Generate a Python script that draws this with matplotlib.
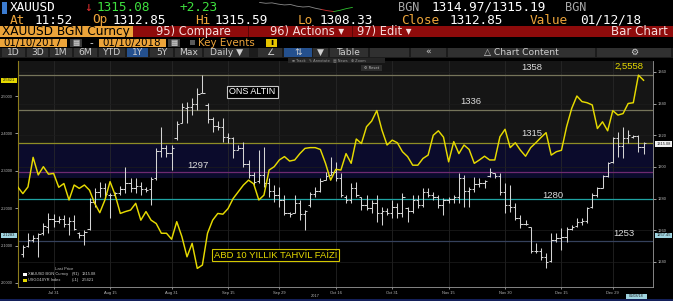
import numpy as np
import pandas as pd
import matplotlib
matplotlib.use("Agg")
import matplotlib.pyplot as plt
from matplotlib.patches import Rectangle

# ---------------- data ----------------
dates = pd.bdate_range("2017-07-20", periods=123)

yield_10y = [
    2.257, 2.239, 2.257, 2.336, 2.289, 2.311, 2.291, 2.293, 2.256, 2.266,
    2.222, 2.262, 2.253, 2.262, 2.248, 2.213, 2.188, 2.222, 2.271, 2.235,
    2.186, 2.191, 2.195, 2.213, 2.168, 2.191, 2.168, 2.159, 2.133, 2.133,
    2.117, 2.164, 2.124, 2.070, 2.106, 2.039, 2.048, 2.133, 2.168, 2.186,
    2.184, 2.199, 2.226, 2.244, 2.262, 2.275, 2.265, 2.222, 2.235, 2.302,
    2.311, 2.329, 2.338, 2.326, 2.329, 2.346, 2.360, 2.362, 2.362, 2.357,
    2.320, 2.275, 2.304, 2.302, 2.346, 2.320, 2.385, 2.373, 2.418, 2.433,
    2.461, 2.409, 2.369, 2.382, 2.375, 2.351, 2.338, 2.315, 2.315, 2.333,
    2.342, 2.395, 2.407, 2.390, 2.324, 2.378, 2.346, 2.369, 2.357, 2.320,
    2.329, 2.339, 2.329, 2.329, 2.391, 2.411, 2.362, 2.375, 2.355, 2.339,
    2.362, 2.375, 2.389, 2.402, 2.342, 2.351, 2.355, 2.418, 2.467, 2.500,
    2.485, 2.482, 2.476, 2.413, 2.431, 2.407, 2.461, 2.449, 2.453, 2.480,
    2.482, 2.5558, 2.5421]

nan = np.nan
gold_high = [
    nan, 1250.8, 1258.1, 1257.1, 1258.1, 1264.4, 1270.7, 1270.3, 1269.1, 1269.7,
    1268.6, 1269.7, 1259.2, 1260.2, 1280.2, 1286.5, 1290.7, 1289.7, 1283.4, 1284.4,
    1288.0, 1300.2, 1292.9, 1292.9, 1290.7, 1287.6, 1293.9, 1311.8, 1325.5, 1313.9,
    1313.9, 1328.7, 1340.2, 1341.3, 1343.4, 1349.7, 1358.1, 1340.2, 1331.8, 1328.7,
    1330.8, 1321.3, 1319.2, 1313.9, 1316.0, 1304.4, 1297.1, 1310.7, 1312.8, 1292.9,
    1288.6, 1287.6, 1282.3, 1271.8, 1282.3, 1279.2, 1272.9, 1284.4, 1287.6, 1292.9,
    1297.1, 1306.5, 1303.0, 1296.0, 1282.3, 1289.7, 1290.7, 1281.3, 1282.3, 1279.2,
    1282.3, 1275.0, 1273.9, 1279.2, 1277.1, 1283.4, 1275.0, 1282.3, 1282.3, 1286.5,
    1286.5, 1284.4, 1282.3, 1280.2, 1281.3, 1282.3, 1296.0, 1294.9, 1287.6, 1293.9,
    1292.9, 1291.8, 1299.2, 1296.0, 1296.0, 1289.7, 1288.6, 1277.1, 1269.7, 1266.5,
    1262.3, 1251.8, 1248.6, 1245.5, 1258.1, 1258.1, 1261.3, 1262.3, 1263.4, 1267.6,
    1267.6, 1275.0, 1283.4, 1287.6, 1295.0, 1303.4, 1319.2, 1322.3, 1325.5, 1323.4,
    1320.2, 1320.2, 1315.59]

gold_low = [
    nan, 1243.4, 1249.7, 1252.9, 1243.4, 1257.1, 1258.1, 1262.3, 1264.4, 1262.3,
    1257.1, 1260.2, 1255.0, 1250.8, 1260.2, 1275.0, 1281.3, 1281.3, 1267.6, 1281.3,
    1282.3, 1283.4, 1284.4, 1283.4, 1282.3, 1284.4, 1276.0, 1291.8, 1306.5, 1306.5,
    1298.1, 1317.1, 1327.6, 1327.6, 1332.9, 1336.0, 1346.5, 1327.6, 1322.3, 1323.4,
    1316.0, 1315.0, 1305.5, 1310.7, 1300.2, 1292.9, 1288.6, 1289.7, 1287.6, 1281.3,
    1278.1, 1275.0, 1269.7, 1268.6, 1270.7, 1266.5, 1260.2, 1275.0, 1281.3, 1284.4,
    1291.8, 1294.9, 1291.0, 1281.3, 1277.1, 1277.1, 1281.3, 1272.9, 1272.9, 1270.7,
    1265.5, 1263.4, 1269.7, 1267.6, 1267.6, 1268.6, 1265.5, 1270.7, 1273.9, 1275.0,
    1281.3, 1279.2, 1273.9, 1269.7, 1277.1, 1277.1, 1277.1, 1275.0, 1275.0, 1284.4,
    1287.6, 1286.5, 1293.9, 1292.9, 1282.3, 1270.7, 1271.8, 1266.5, 1261.3, 1263.4,
    1245.5, 1245.5, 1241.3, 1236.0, 1240.2, 1252.9, 1247.6, 1252.9, 1260.2, 1262.3,
    1263.4, 1264.4, 1273.9, 1281.3, 1286.5, 1293.9, 1302.3, 1306.5, 1305.5, 1315.0,
    1318.1, 1309.7, 1308.33]

gold_open = [
    nan, 1245, 1250, 1254, 1255, 1258, 1262, 1267, 1266, 1267,
    1264, 1266, 1258, 1257, 1261, 1278, 1284, 1287, 1282, 1282.5,
    1283.5, 1286, 1290, 1287, 1288, 1286, 1286, 1293, 1310, 1312,
    1309, 1318, 1328, 1337, 1338, 1340, 1347, 1339, 1330, 1326,
    1325, 1319, 1318, 1311, 1312, 1302, 1295, 1291, 1295, 1290,
    1285, 1282, 1279, 1271, 1271, 1277, 1270, 1276, 1283, 1285,
    1292, 1295, 1297, 1293, 1281, 1279, 1287, 1281, 1276, 1274,
    1277, 1271, 1272, 1271, 1275, 1271, 1274, 1272, 1279, 1276,
    1284, 1282, 1281, 1276, 1279, 1280, 1281, 1293, 1285, 1286,
    1289.5, 1290, 1294, 1296, 1294, 1284, 1276, 1275, 1268, 1264,
    1262, 1247, 1247, 1243, 1240.5, 1254, 1255, 1255.5, 1261, 1262.5,
    1265, 1266, 1274.5, 1282, 1287, 1294.5, 1303, 1318, 1313, 1318,
    1319, 1319.5, 1312.85]

gold_close = [
    nan, 1249.5, 1254, 1255, 1257.5, 1263, 1267, 1266, 1267, 1264,
    1266, 1261, 1257, 1259, 1278, 1284, 1287, 1283, 1282.5, 1283.5,
    1286, 1290, 1287, 1288, 1286, 1285.5, 1292.5, 1310, 1312, 1309,
    1312, 1327, 1338, 1338, 1340, 1346, 1347, 1330, 1326, 1325,
    1319, 1318, 1311, 1312, 1302, 1295, 1290.5, 1295, 1290, 1285,
    1282, 1279, 1271, 1270, 1277, 1270, 1272.5, 1283, 1285, 1291,
    1294, 1297, 1293, 1282, 1279, 1287, 1282, 1276, 1274, 1277,
    1271, 1272, 1271, 1275, 1271, 1281, 1272, 1279, 1276, 1284,
    1282, 1281, 1276, 1279, 1280, 1281, 1293, 1285, 1286, 1289.5,
    1290, 1291, 1297, 1294, 1284, 1276, 1275, 1268, 1264, 1264,
    1247, 1247, 1243, 1240, 1254, 1255, 1255.5, 1261, 1262, 1265,
    1266, 1274, 1282, 1287, 1294, 1302.5, 1318, 1313, 1318, 1320,
    1319.5, 1312.85, 1315.08]

level_values = [1358, 1336, 1315, 1297, 1280, 1253]
level_colors = ["#75745a", "#75745a", "#8f8d26", "#6e2a70", "#1fa3a3", "#35415c"]

tick_dates = ["2017-07-31", "2017-08-15", "2017-08-31", "2017-09-15", "2017-09-29",
              "2017-10-16", "2017-10-31", "2017-11-15", "2017-11-30", "2017-12-15",
              "2017-12-29"]
tick_labels = ["Jul 31", "Aug 15", "Aug 31", "Sep 15", "Sep 29", "Oct 16",
               "Oct 31", "Nov 15", "Nov 30", "Dec 15", "Dec 29"]
gold_ticks = [1240, 1260, 1280, 1300, 1320, 1340, 1360]
yield_ticks = [2.0, 2.1, 2.2, 2.3, 2.4, 2.5]

spark_values = [1316.3, 1316.1, 1316.2, 1315.9, 1315.7, 1315.8, 1315.4, 1315.2,
                1315.3, 1314.9, 1314.6, 1314.3, 1314.1, 1314.4, 1314.8, 1315.1]

# ---------------- figure ----------------
W, H = 673, 301
fig = plt.figure(figsize=(W / 100, H / 100), dpi=100, facecolor="black")
bg = fig.add_axes([0, 0, 1, 1])
bg.set_xlim(0, W)
bg.set_ylim(H, 0)
bg.axis("off")
bg.set_zorder(0)
PX = bg.transData

MONO = "DejaVu Sans Mono"
SANS = "DejaVu Sans"
ARIAL = "Liberation Sans"
ORANGE = "#eca43a"


def box(x, y, w, h, fc, ec="none", lw=0, target=None, z=1):
    r = Rectangle((x, y), w, h, facecolor=fc, edgecolor=ec, lw=lw,
                  transform=PX, zorder=z, clip_on=False)
    (target or bg).add_artist(r)


def txt(x, y, s, size, color, family=SANS, ha="left", target=None, **kw):
    (target or bg).text(x, y, s, fontsize=size, color=color, family=family,
                        ha=ha, va="center", transform=PX, **kw)


# Row 1
box(2, 2, 5, 12, "#3b7bd0")
txt(10, 7.5, "XAUUSD", 9.2, "white", MONO)
txt(84, 7.5, "↓", 9.2, "#e03030", MONO)
txt(97, 7.5, "1315.08", 9.2, "#3ee03e", MONO)
txt(180, 7.5, "+2.23", 9.2, "#3ee03e", MONO)
txt(398, 7.5, "BGN", 8.6, "#a8a8a8", MONO)
txt(432, 7.5, "1314.97/1315.19", 9.2, "white", MONO)
txt(565, 7.5, "BGN", 8.6, "#a8a8a8", MONO)

spark = fig.add_axes([255 / W, 1 - 12 / H, 102 / W, 10 / H])
spark.axis("off")
sp_x = np.arange(len(spark_values))
spark.plot(sp_x[:11], spark_values[:11], color="#8a8a8a", lw=0.6)
spark.plot(sp_x[10:13], spark_values[10:13], color="#d03030", lw=0.6)
spark.plot(sp_x[12:], spark_values[12:], color="#30c030", lw=0.6)

# Row 2
for x, s, c in [(10, "At", ORANGE), (35, "11:52", "white"), (92, "Op", ORANGE),
                (113, "1312.85", "white"), (195, "Hi", ORANGE), (215, "1315.59", "white"),
                (298, "Lo", ORANGE), (320, "1308.33", "white"), (401, "Close", ORANGE),
                (450, "1312.85", "white"), (530, "Value", ORANGE), (580, "01/12/18", "white")]:
    txt(x, 20, s, 9.2, c, MONO)

# Row 3
box(0, 26, 133, 11, ORANGE)
box(133, 26, 540, 11, "#8e0b0b")
box(248, 26, 1, 11, "#5a0606")
box(352, 26, 1, 11, "#5a0606")
txt(2, 31.5, "XAUUSD BGN Curncy", 8.7, "black")
txt(156, 31.5, "95) Compare", 8.3, "#f6dede")
txt(270, 31.5, "96) Actions ▾", 8.3, "#f6dede")
txt(357, 31.5, "97) Edit ▾", 8.3, "#f6dede")
txt(668, 31.5, "Bar Chart", 8.5, "#f6dede", ha="right")

# Row 4
box(0, 38.5, 67, 8.5, ORANGE)
txt(3, 42.8, "01/10/2017", 7.4, "black")
box(70, 38.5, 12, 8.5, "#3a3a3a")
txt(76, 42.8, "▦", 5.5, "#dddddd", ha="center")
txt(89, 42.8, "-", 7.4, "#dddddd")
box(99, 38.5, 67, 8.5, ORANGE)
txt(102, 42.8, "01/10/2018", 7.4, "black")
box(168, 38.5, 12, 8.5, "#3a3a3a")
txt(174, 42.8, "▦", 5.5, "#dddddd", ha="center")
box(190, 40, 5, 5, "#5a5a5a")
txt(198, 42.8, "Key Events", 7.4, ORANGE)
box(266, 39, 11, 7.5, "#e6c400")
txt(271.5, 42.8, "i", 6.5, "black", ha="center", weight="bold")

# Row 5 toolbar
box(0, 47.5, 673, 10, "#1c1c1c")
buttons = [(2, 23, "1D"), (27, 21, "3D"), (50, 22, "1M"), (74, 23, "6M"),
           (99, 26, "YTD"), (127, 21, "1Y"), (150, 23, "5Y"), (175, 27, "Max"),
           (204, 45, "Daily ▼"), (258, 24, "∠"), (284, 28, "⇅"), (313, 15, "▼"),
           (330, 38, "Table"), (370, 39, ""), (411, 35, "«"),
           (448, 147, "△ Chart Content"), (597, 74, "⚙")]
for x, w, s in buttons:
    fc = "#24508e" if s in ("1Y", "⇅") else "#303030"
    box(x, 48, w, 9, fc)
    if s:
        txt(x + w / 2, 52.6, s, 6.6, "#cfcfcf", ha="center")

# ---------------- chart ----------------
L, R, T, B = 18, 653, 61, 287
axg = fig.add_axes([L / W, 1 - B / H, (R - L) / W, (B - T) / H])
axg.set_zorder(1)
axy = axg.twinx()
axy.set_zorder(2)
axy.patch.set_visible(False)
axg.set_facecolor("black")

pos = np.arange(len(dates))
x0, x1 = 0.055, 123.84
g_top, g_bot = 1366.9, 1224.2
y_top, y_bot = 2.5936, 1.9893

axg.axhspan(1315, g_top, color="#151515", zorder=0, lw=0)
axg.axhspan(1293, 1315, color="#0b0b2c", zorder=0, lw=0)
for v, c in zip(level_values, level_colors):
    axg.axhline(v, color=c, lw=0.9, zorder=1)

gh = np.array(gold_high, float)
gl = np.array(gold_low, float)
go = np.array(gold_open, float)
gc = np.array(gold_close, float)
ok = ~np.isnan(gh)
bar_c = "#d4d4d4"
axg.vlines(pos[ok], gl[ok], gh[ok], color=bar_c, lw=0.75, zorder=3)
axg.hlines(go[ok], pos[ok] - 0.45, pos[ok], color=bar_c, lw=0.75, zorder=3)
axg.hlines(gc[ok], pos[ok], pos[ok] + 0.45, color=bar_c, lw=0.75, zorder=3)

axy.plot(pos, yield_10y, color="#e6da00", lw=1.05, zorder=4)

axg.set_xlim(x0, x1)
axg.set_ylim(g_bot, g_top)
axy.set_ylim(y_bot, y_top)

tick_pos = [dates.get_loc(pd.Timestamp(d)) for d in tick_dates]
axg.set_xticks(tick_pos)
axg.set_xticklabels(tick_labels)
axg.set_yticks(gold_ticks)
axg.set_yticklabels([str(v) for v in gold_ticks])
axy.set_yticks(yield_ticks)
axy.set_yticklabels([f"{v:.4f}" for v in yield_ticks])
axg.yaxis.tick_right()
axy.yaxis.tick_left()

axg.tick_params(axis="x", length=1.5, width=0.5, color="#bbbbbb", labelsize=2.9,
                labelcolor="#b8b8b8", pad=1.5)
axg.tick_params(axis="y", length=2, width=0.5, color="#dddddd", labelsize=2.9,
                labelcolor="#b8b8b8", pad=1.5)
axy.tick_params(axis="y", length=2, width=0.5, color="#dddddd", labelsize=2.9,
                labelcolor="#b8b8b8", pad=1.5)
for lab in axg.get_xticklabels() + axg.get_yticklabels() + axy.get_yticklabels():
    lab.set_family(ARIAL)

axg.grid(axis="x", color="#2b2b2b", lw=0.5)
axg.grid(axis="y", color="#1d1d1d", lw=0.5)
axg.set_axisbelow(True)

for s in ("top", "left"):
    axg.spines[s].set_visible(False)
axg.spines["right"].set_color("#9a9a9a")
axg.spines["bottom"].set_color("#9a9a9a")
axg.spines["right"].set_linewidth(0.6)
axg.spines["bottom"].set_linewidth(0.6)
for s in ("top", "right", "bottom"):
    axy.spines[s].set_visible(False)
axy.spines["left"].set_color("#8c7c1c")
axy.spines["left"].set_linewidth(0.8)

# chart overlays (pixel positions)
tgt = axy
box(288, 58, 97, 4.5, "#262626", target=tgt, z=6)
txt(292, 60.2, "≡ Track   ✎ Annotate   ▤ News   ⊕ Zoom", 2.6, "#9a9a9a", target=tgt, zorder=7)
box(361, 65, 21, 6, "#2e2e2e", target=tgt, z=6)
txt(371.5, 68, "⚙ Reset", 2.7, "#bbbbbb", ha="center", target=tgt, zorder=7)

lab_c = "#dcdcdc"
for x, y, s in [(532, 67, "1358"), (470.5, 102, "1336"), (532, 133, "1315"),
                (198, 165, "1297"), (552.5, 195, "1280"), (624, 233, "1253")]:
    txt(x, y, s, 6.8, lab_c, ARIAL, ha="center", target=tgt, zorder=8)
txt(628.5, 66, "2,5558", 6.8, "#e6da00", ARIAL, ha="center", target=tgt, zorder=8)

tgt.text(252.5, 92, "ONS ALTIN", fontsize=6.5, color="white", family=ARIAL,
         ha="center", va="center", transform=PX, zorder=8,
         bbox=dict(boxstyle="square,pad=0.22", fc="black", ec="#c8c8c8", lw=0.8))
tgt.text(275.5, 255, "ABD 10 YILLIK TAHVİL FAİZİ", fontsize=6.8, color="#e6da00",
         family=ARIAL, ha="center", va="center", transform=PX, zorder=8,
         bbox=dict(boxstyle="square,pad=0.2", fc="black", ec="#d2c600", lw=0.8))

# legend
txt(64, 269, "Last Price", 3.0, "#bdbdbd", ARIAL, ha="center", target=tgt, zorder=8)
box(23, 272.5, 3.5, 3.5, "white", target=tgt, z=8)
box(23, 278.5, 3.5, 3.5, "#e6da00", target=tgt, z=8)
for y, a, b, c in [(274.3, "XAUUSD BGN Curncy", "(R1)", "1315.08"),
                   (280.3, "USGG10YR Index", "(L1)", "2.5421")]:
    txt(28, y, a, 2.9, "#cfcfcf", ARIAL, target=tgt, zorder=8)
    txt(72, y, b, 2.9, "#cfcfcf", ARIAL, target=tgt, zorder=8)
    txt(82, y, c, 2.9, "#cfcfcf", ARIAL, target=tgt, zorder=8)

# axis value tags
box(1, 77.5, 16, 5.5, "#e6da00")
txt(9, 80.2, "2.5421", 2.9, "#222222", ARIAL, ha="center")
box(1, 232.5, 16, 5.5, "#9fd4e0")
txt(9, 235.2, "2.1283", 2.9, "#222222", ARIAL, ha="center")
box(655, 141, 17, 6, "#f0f0f0")
txt(663.5, 144, "1315.08", 2.9, "#222222", ARIAL, ha="center")
box(655, 232.5, 17, 5.5, "#9fd4e0")
txt(663.5, 235.2, "1257.45", 2.9, "#222222", ARIAL, ha="center")

# bottom
txt(315, 296, "2017", 2.9, "#b8b8b8", ARIAL, ha="center")
box(626, 293.5, 21, 5, "#9fd4e0")
txt(636.5, 296, "01/08/18", 2.7, "#222222", ARIAL, ha="center")
box(0, 298.5, 673, 2.5, "#14205a")

fig.savefig("out.png", dpi=100, facecolor="black")
